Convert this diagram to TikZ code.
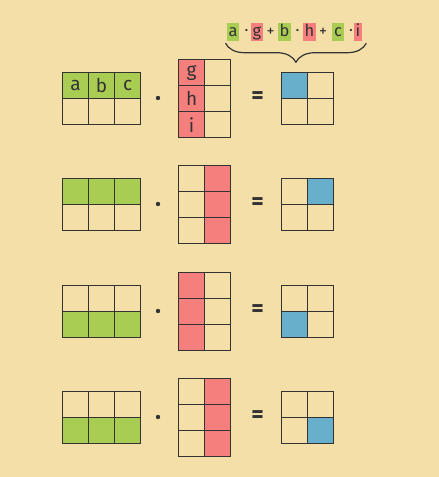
\documentclass[tikz,border=0pt]{standalone}
\usepackage{fontspec}
\setmainfont{Fira Sans}
\usetikzlibrary{positioning,calc,decorations.pathreplacing}
\definecolor{paper}{HTML}{F4DFA8}
\definecolor{ink}{HTML}{333333}
\definecolor{rowgreen}{HTML}{A9CC52}
\definecolor{colred}{HTML}{F47F7D}
\definecolor{hitblue}{HTML}{67AFCB}

\begin{document}
\begin{tikzpicture}[
    x=1pt, y=-1pt,
    cell/.style={draw=ink, line width=1.2pt, minimum size=26pt, inner sep=0pt, anchor=north west},
    letter/.style={font=\fontsize{19}{19}\selectfont, text=ink},
    tag/.style={inner xsep=1.8pt, inner ysep=0pt, minimum height=18pt, text height=12.5pt, text depth=4.5pt, font=\fontsize{16.5}{16.5}\selectfont, text=ink},
    sign/.style={inner sep=0pt, font=\fontsize{16}{16}\selectfont, text=ink},
    times/.style={circle, fill=ink, inner sep=0pt, minimum size=4.4pt},
    equal/.style={font=\bfseries\fontsize{24}{24}\selectfont, text=ink},
    brace/.style={decorate, decoration={brace, mirror, amplitude=19pt}, draw=ink, line width=1.2pt}
]
\fill[paper] (0,0) rectangle (439,477);
\useasboundingbox (0,0) rectangle (439,477);

% one product per row: k / top edge / highlighted row of A / highlighted column of B
\foreach \k/\ytop/\ar/\bc in {0/72/1/1, 1/178/1/2, 2/285/2/1, 3/391/2/2} {
  % left factor, 2x3
  \foreach \r in {1,2} \foreach \c in {1,2,3} {
    \ifnum\r=\ar\def\cellfill{rowgreen}\else\def\cellfill{paper}\fi
    \node[cell, fill=\cellfill] (a\k-\r\c) at ({62+26*(\c-1)},{\ytop+26*(\r-1)}) {};
  }
  % right factor, 3x2
  \foreach \r in {1,2,3} \foreach \c in {1,2} {
    \ifnum\c=\bc\def\cellfill{colred}\else\def\cellfill{paper}\fi
    \node[cell, fill=\cellfill] (b\k-\r\c) at ({178+26*(\c-1)},{\ytop-13+26*(\r-1)}) {};
  }
  % result, 2x2
  \foreach \r in {1,2} \foreach \c in {1,2} {
    \def\cellfill{paper}
    \ifnum\r=\ar\ifnum\c=\bc\def\cellfill{hitblue}\fi\fi
    \node[cell, fill=\cellfill] (c\k-\r\c) at ({281+26*(\c-1)},{\ytop+26*(\r-1)}) {};
  }
  \node[times] (dot\k) at (158,{\ytop+26}) {};
  \node[equal] (eq\k) at (257.5,{\ytop+26}) {=};
}

% entries of the first product
\node[letter] (la) at (a0-11) {a};
\node[letter] (lb) at (a0-12) {b};
\node[letter] (lc) at (a0-13) {c};
\node[letter] (lg) at (b0-11) {g};
\node[letter] (lh) at (b0-21) {h};
\node[letter] (li) at (b0-31) {i};

% the sum above the blue entry
\foreach \n/\x/\t/\f in {ea/233/a/rowgreen, eg/257/g/colred, eb/284.5/b/rowgreen,
    eh/309.5/h/colred, ec/338/c/rowgreen, ei/358/i/colred} {
  \node[tag, fill=\f] (\n) at (\x,32) {\t};
}
\foreach \n/\x/\t in {o1/246.5/·, o2/270.5/+, o3/297.5/·, o4/323/+, o5/351/·} {
  \node[sign] (\n) at (\x,32.5) {\t};
}
\draw[brace] ($(ea.south west)+(-1,2)$) -- ($(ei.south east)+(4,2)$);
\end{tikzpicture}
\end{document}
